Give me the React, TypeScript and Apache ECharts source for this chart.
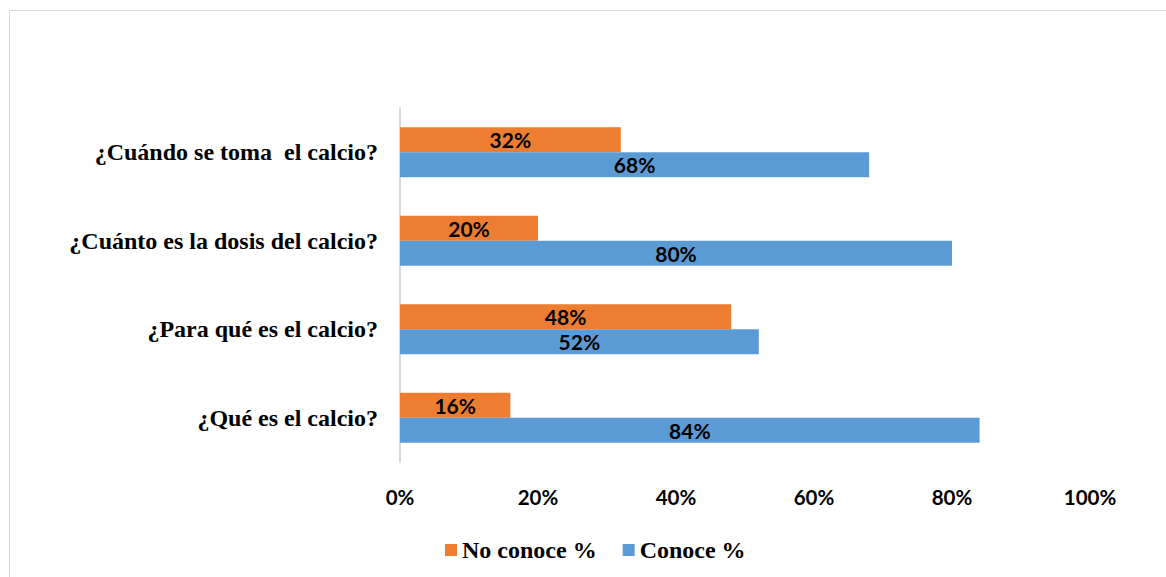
import React, { useEffect, useRef } from "react";
import * as echarts from "echarts";

const categories = [
  "¿Qué es el calcio?",
  "¿Para qué es el calcio?",
  "¿Cuánto es la dosis del calcio?",
  "¿Cuándo se toma  el calcio?",
];
const noConoce = [16, 48, 20, 32];
const conoce = [84, 52, 80, 68];
const xTicks = [0, 20, 40, 60, 80, 100];

export default function App() {
  const ref = useRef<HTMLDivElement>(null);
  useEffect(() => {
    const chart = echarts.init(ref.current!, null, { renderer: "svg" });
    const labelStyle = {
      show: true,
      position: "inside",
      formatter: "{c}%",
      color: "#000",
      fontFamily: "Lato",
      fontWeight: "bold",
      fontSize: 21,
    };
    chart.setOption({
      animation: false,
      backgroundColor: "#fff",
      graphic: [
        {
          type: "rect",
          shape: { x: 9.5, y: 10.5, width: 1170, height: 580 },
          style: { fill: "none", stroke: "#d9d9d9", lineWidth: 1 },
          silent: true,
        },
      ],
      grid: { left: 400, right: 76, top: 108, bottom: 115, containLabel: false },
      legend: {
        top: 538,
        left: 445,
        padding: 0,
        itemWidth: 12,
        itemHeight: 12,
        itemGap: 26,
        icon: "rect",
        textStyle: {
          fontFamily: "Liberation Serif",
          fontWeight: "bold",
          fontSize: 24,
          color: "#000",
        },
        data: ["No conoce %", "Conoce %"],
      },
      xAxis: {
        type: "value",
        min: 0,
        max: 100,
        interval: 20,
        axisLine: { show: false },
        axisTick: { show: false },
        splitLine: { show: false },
        axisLabel: {
          margin: 24,
          color: "#000",
          fontFamily: "Lato",
          fontWeight: "bold",
          fontSize: 20.5,
          formatter: (v: number) => (xTicks.includes(v) ? v + "%" : ""),
        },
      },
      yAxis: {
        type: "category",
        data: categories,
        axisLine: { show: true, lineStyle: { color: "#d9d9d9", width: 2 } },
        axisTick: { show: false },
        axisLabel: {
          margin: 22,
          color: "#000",
          fontFamily: "Liberation Serif",
          fontWeight: "bold",
          fontSize: 24,
        },
      },
      series: [
        {
          name: "No conoce %",
          type: "bar",
          data: noConoce,
          barWidth: 25,
          barGap: "0%",
          itemStyle: { color: "#ED7D31" },
          label: labelStyle,
        },
        {
          name: "Conoce %",
          type: "bar",
          data: conoce,
          barWidth: 25,
          barGap: "0%",
          itemStyle: { color: "#5B9BD5" },
          label: labelStyle,
        },
      ],
    });
    return () => chart.dispose();
  }, []);
  return (
    <div
      ref={ref}
      style={{ position: "absolute", left: 0, top: 0, width: 1166, height: 577 }}
    />
  );
}
